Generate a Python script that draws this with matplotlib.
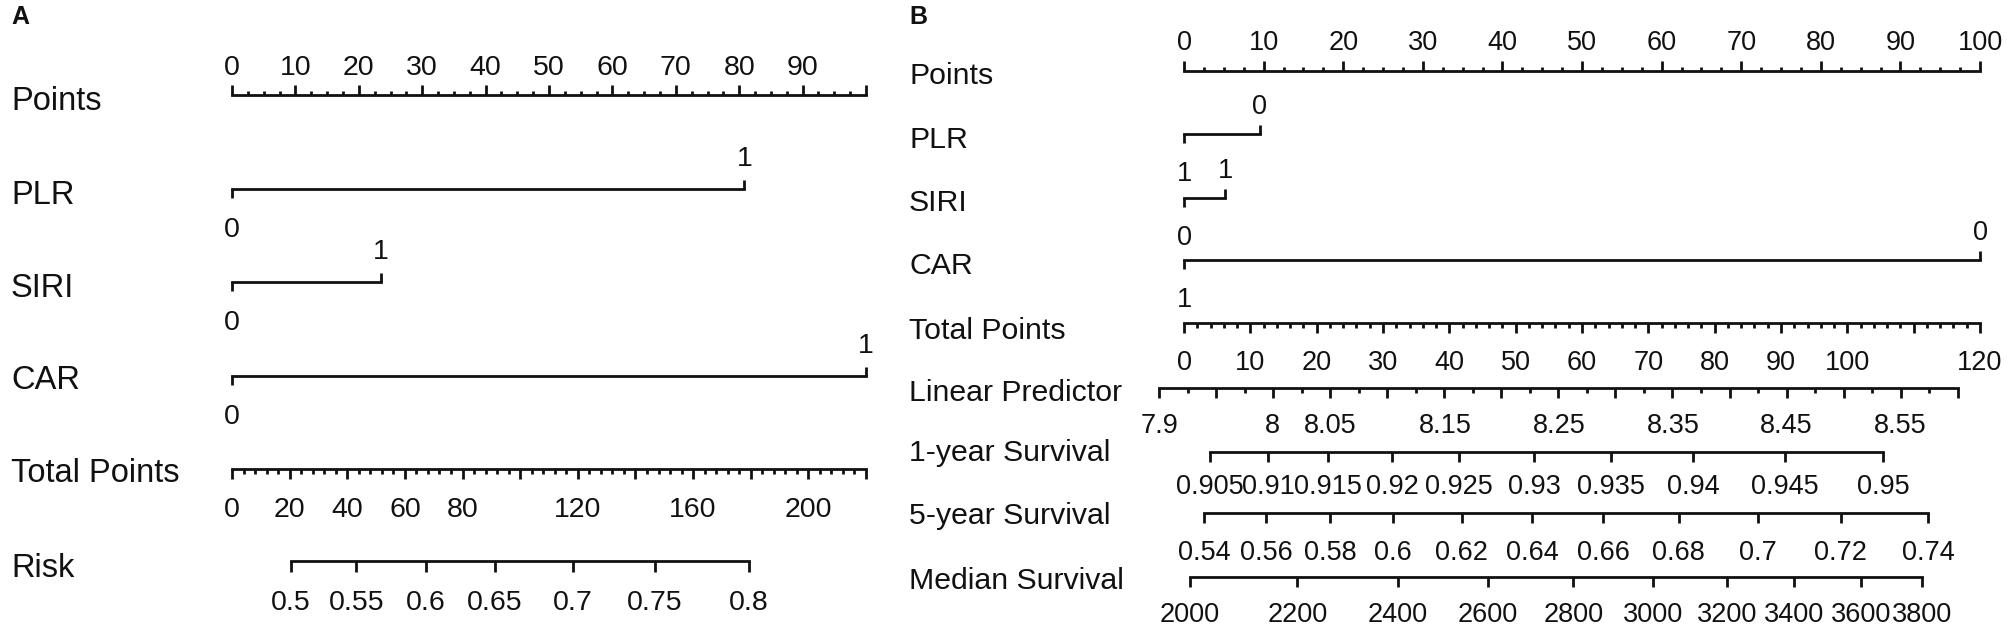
import numpy as np
import matplotlib
matplotlib.use("Agg")
import matplotlib.pyplot as plt

# ---------------- Panel A data ----------------
a_points_labels = [0, 10, 20, 30, 40, 50, 60, 70, 80, 90]
a_points_max = 100
a_vars = ["PLR", "SIRI", "CAR"]
a_var_levels = [["0", "1"], ["0", "1"], ["0", "1"]]
a_var_points = [[0, 80.8], [0, 23.5], [0, 100]]
a_total_max = 220
a_total_labels = [0, 20, 40, 60, 80, 120, 160, 200]
a_risk_vals = [0.5, 0.55, 0.6, 0.65, 0.7, 0.75, 0.8]
a_risk_total = [20.4, 43.2, 67.4, 91.1, 118.2, 146.7, 179.4]

# ---------------- Panel B data ----------------
b_points_labels = [0, 10, 20, 30, 40, 50, 60, 70, 80, 90, 100]
b_points_max = 100
b_vars = ["PLR", "SIRI", "CAR"]
b_var_levels = [["0", "1"], ["0", "1"], ["0", "1"]]
b_var_points = [[9.5, 0], [0, 5.2], [100, 0]]
b_total_max = 120
b_total_labels = [0, 10, 20, 30, 40, 50, 60, 70, 80, 90, 100, 120]
b_lp_labels = [7.9, 8, 8.05, 8.15, 8.25, 8.35, 8.45, 8.55]
b_lp_total = [-3.7, 13.3, 22.0, 39.4, 56.5, 73.8, 90.8, 107.9]
b_lp_range = [7.9, 8.6]
b_surv1_vals = [0.905, 0.91, 0.915, 0.92, 0.925, 0.93, 0.935, 0.94, 0.945, 0.95]
b_surv1_total = [3.9, 12.7, 21.7, 31.4, 41.5, 52.8, 64.3, 76.8, 90.6, 105.4]
b_surv5_vals = [0.54, 0.56, 0.58, 0.6, 0.62, 0.64, 0.66, 0.68, 0.7, 0.72, 0.74]
b_surv5_total = [3.0, 12.4, 22.0, 31.5, 41.9, 52.5, 63.2, 74.6, 86.5, 99.0, 112.2]
b_med_vals = [2000, 2200, 2400, 2600, 2800, 3000, 3200, 3400, 3600, 3800]
b_med_total = [0.9, 17.1, 32.2, 45.8, 58.7, 70.7, 81.9, 92.0, 102.0, 111.3]

plt.rcParams["font.family"] = ["Liberation Sans", "DejaVu Sans"]
W, H = 2008, 625
fig = plt.figure(figsize=(W / 100, H / 100), dpi=100)
LW = 2.0
INK = "#111111"


def make_panel(origin_px, px_per_pt):
    ax = fig.add_axes([0, 0, 1, 1])
    ax.set_xlim(-origin_px / px_per_pt, (W - origin_px) / px_per_pt)
    ax.set_ylim(H, 0)
    ax.axis("off")
    ax.patch.set_alpha(0)
    return ax


def ctext(ax, x, cy, s, fs, ha="center", **kw):
    em = fs / 0.72
    ax.text(x, cy + 0.358 * em, s, ha=ha, va="baseline", fontsize=fs,
            color=INK, **kw)


def hscale(ax, y, x0, x1, major, minor, lab_x, lab_txt, up, fs,
           maj_len=10, min_len=4.5, lab_off=36):
    ax.plot([x0, x1], [y, y], color=INK, lw=LW, solid_capstyle="projecting")
    sgn = -1 if up else 1
    ax.vlines(major, y, y + sgn * maj_len, color=INK, lw=LW)
    if len(minor):
        ax.vlines(minor, y, y + sgn * min_len, color=INK, lw=LW)
    for x, t in zip(lab_x, lab_txt):
        ctext(ax, x, y + sgn * lab_off, t, fs)


def var_row(ax, y, levels, pts, fs, up_off=31, down_off=37, tlen=9):
    lo, hi = min(pts), max(pts)
    ax.plot([lo, hi], [y, y], color=INK, lw=LW, solid_capstyle="projecting")
    for lev, p in zip(levels, pts):
        up = (p == hi)
        sgn = -1 if up else 1
        ax.vlines(p, y, y + sgn * tlen, color=INK, lw=LW)
        ctext(ax, p, y + sgn * (up_off if up else down_off), lev, fs)


def fmt(v):
    return f"{v:g}"


# ================= Panel A =================
axA = make_panel(232, 6.34)
A_LAB, A_TICK = 23.5, 20.5
a_lx = (11 - 232) / 6.34
a_rows = [95, 189, 282, 376, 469, 561]
a_lab_y = [98, 192, 285, 377, 470, 565]
a_names = ["Points"] + a_vars + ["Total Points", "Risk"]
for name, cy in zip(a_names, a_lab_y):
    ctext(axA, a_lx, cy, name, A_LAB, ha="left")
ctext(axA, a_lx, 15, "A", 18, ha="left", fontweight="bold")

pminA = np.arange(2.5, a_points_max, 2.5)
pminA = pminA[pminA % 10 != 0]
hscale(axA, a_rows[0], 0, a_points_max,
       np.arange(0, a_points_max + 0.1, 10), pminA,
       a_points_labels, [fmt(v) for v in a_points_labels], True, A_TICK,
       lab_off=30)
for i in range(3):
    var_row(axA, a_rows[i + 1], a_var_levels[i], a_var_points[i], A_TICK,
            up_off=33, down_off=38)
ts = a_points_max / a_total_max
tmaj = np.arange(0, a_total_max + 0.1, 20)
tmin = np.arange(0, a_total_max + 0.1, 4)
tmin = tmin[tmin % 20 != 0]
hscale(axA, a_rows[4], 0, a_total_max * ts, tmaj * ts, tmin * ts,
       np.array(a_total_labels) * ts, [fmt(v) for v in a_total_labels],
       False, A_TICK, lab_off=38)
rx = np.array(a_risk_total) * ts
hscale(axA, a_rows[5], rx[0], rx[-1], rx, [], rx,
       [fmt(v) for v in a_risk_vals], False, A_TICK, maj_len=11, lab_off=39)

# ================= Panel B =================
axB = make_panel(1184, 7.96)
B_LAB, B_TICK = 21.8, 19.5
b_lx = (909 - 1184) / 7.96
b_rows = [71, 134, 198, 260, 323, 388, 451.5, 513, 577]
b_lab_y = [73, 137, 200, 263, 328, 390, 450, 513, 578]
b_names = ["Points"] + b_vars + ["Total Points", "Linear Predictor",
                                 "1-year Survival", "5-year Survival",
                                 "Median Survival"]
for name, cy in zip(b_names, b_lab_y):
    ctext(axB, b_lx, cy, name, B_LAB, ha="left")
ctext(axB, b_lx, 15, "B", 18, ha="left", fontweight="bold")

pmin = np.arange(2.5, b_points_max, 2.5)
pmin = pmin[pmin % 10 != 0]
hscale(axB, b_rows[0], 0, b_points_max, np.arange(0, b_points_max + 0.1, 10),
       pmin, b_points_labels, [fmt(v) for v in b_points_labels], True, B_TICK,
       lab_off=31)
for i in range(3):
    var_row(axB, b_rows[i + 1], b_var_levels[i], b_var_points[i], B_TICK,
            up_off=30, down_off=37)
bs = b_points_max / b_total_max
tmaj = np.arange(0, b_total_max + 0.1, 10)
tmin = np.arange(0, b_total_max + 0.1, 2)
tmin = tmin[tmin % 10 != 0]
hscale(axB, b_rows[4], 0, b_total_max * bs, tmaj * bs, tmin * bs,
       np.array(b_total_labels) * bs, [fmt(v) for v in b_total_labels],
       False, B_TICK, lab_off=37)
# Linear predictor: linear scale fitted to the read label positions
k, c = np.polyfit(b_lp_labels, b_lp_total, 1)
lp_maj = np.round(np.arange(b_lp_range[0], b_lp_range[1] + 1e-6, 0.05), 3)
lp_min = np.round(np.arange(b_lp_range[0] + 0.025, b_lp_range[1], 0.05), 3)
to_x = lambda v: (k * np.asarray(v) + c) * bs
hscale(axB, b_rows[5], to_x(b_lp_range[0]), to_x(b_lp_range[1]),
       to_x(lp_maj), to_x(lp_min), np.array(b_lp_total) * bs,
       [fmt(v) for v in b_lp_labels], False, B_TICK, min_len=5, lab_off=35)
for row, vals, tot, off in [(6, b_surv1_vals, b_surv1_total, 33),
                            (7, b_surv5_vals, b_surv5_total, 37),
                            (8, b_med_vals, b_med_total, 35)]:
    xs = np.array(tot) * bs
    hscale(axB, b_rows[row], xs[0], xs[-1], xs, [], xs,
           [fmt(v) for v in vals], False, B_TICK, lab_off=off)

fig.savefig("out.png", dpi=100, facecolor="white")
